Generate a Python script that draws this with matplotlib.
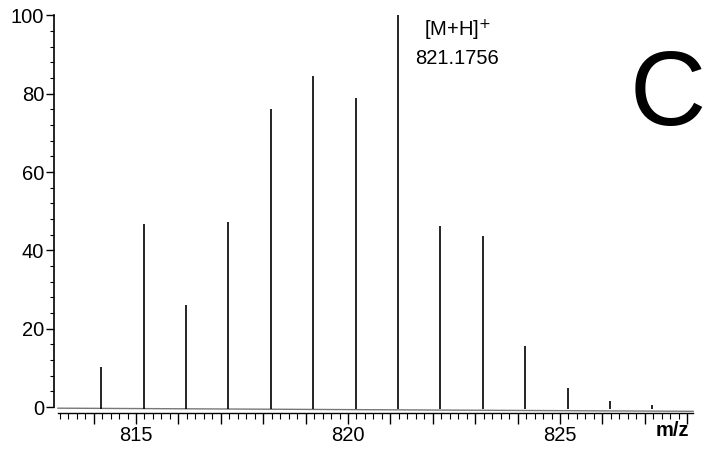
import numpy as np
import matplotlib
matplotlib.use("Agg")
import matplotlib.pyplot as plt
from matplotlib.ticker import MultipleLocator, FuncFormatter

plt.rcParams["font.family"] = ["Liberation Sans", "DejaVu Sans"]

# Dane widma (m/z, intensywnosc wzgledna)
peak_mz = [814.18, 815.18, 816.18, 817.18, 818.18, 819.18, 820.18,
           821.1756, 822.18, 823.18, 824.18, 825.18, 826.18, 827.18]
peak_int = [10.2, 46.7, 26.0, 47.3, 76.1, 84.5, 78.9,
            100.0, 46.2, 43.7, 15.6, 4.9, 1.5, 0.4]
baseline_mz = [813.16, 828.14]
baseline_int = [-0.3, -1.1]
x_labels = [815, 820, 825]

fig = plt.figure(figsize=(7.14, 4.49), dpi=100)
ax = fig.add_axes([0.0756, 0.0802, 0.8964, 0.8853])

ax.plot(baseline_mz, baseline_int, color="#777777", lw=1.0)
ax.vlines(peak_mz, -0.6, peak_int, color="black", lw=1.2)

ax.set_xlim(813.066, 828.16)
ax.set_ylim(-1.53, 100)

for s in ["top", "right"]:
    ax.spines[s].set_visible(False)
ax.spines["left"].set_bounds(0, 100)
ax.spines["bottom"].set_bounds(813.16, 828.14)
ax.spines["left"].set_linewidth(1.2)
ax.spines["bottom"].set_linewidth(1.0)

ax.yaxis.set_major_locator(MultipleLocator(20))
ax.yaxis.set_minor_locator(MultipleLocator(4))
ax.xaxis.set_major_locator(MultipleLocator(1))
ax.xaxis.set_minor_locator(MultipleLocator(0.2))
ax.xaxis.set_major_formatter(FuncFormatter(
    lambda v, p: str(int(round(v))) if int(round(v)) in x_labels else ""))

fs = 14.5
ax.tick_params(axis="y", which="major", length=6, width=1, pad=1, labelsize=fs)
ax.tick_params(axis="y", which="minor", length=3, width=0.8)
ax.tick_params(axis="x", which="major", length=8, width=1, pad=1.5, labelsize=fs)
ax.tick_params(axis="x", which="minor", length=4, width=0.8)

fig.text(457 / 714, 1 - 30 / 449, "[M+H]$^{+}$", fontsize=fs,
         ha="center", va="center")
fig.text(457 / 714, 1 - 58 / 449, "821.1756", fontsize=fs,
         ha="center", va="center")
fig.text(668 / 714, 1 - 97 / 449, "C", fontsize=76, ha="center", va="center")
fig.text(689 / 714, 1 - 430 / 449, "m/z", fontsize=fs, fontweight="bold",
         ha="right", va="center")

fig.savefig("out.png", dpi=100)
